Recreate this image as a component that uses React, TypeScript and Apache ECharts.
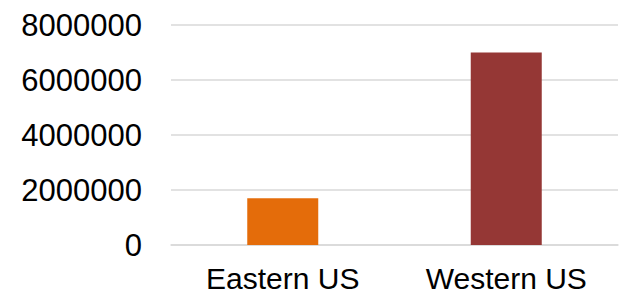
import React, { useEffect, useRef } from "react";
import * as echarts from "echarts";

const categories = ["Eastern US", "Western US"];
const values = [1700000, 7000000];
const barColors = ["#E46C0A", "#953735"];
const yTicks = { min: 0, max: 8000000, interval: 2000000 };

export default function App() {
  const ref = useRef<HTMLDivElement>(null);
  useEffect(() => {
    if (!ref.current) return;
    const chart = echarts.init(ref.current, undefined, { renderer: "svg" });
    chart.setOption({
      animation: false,
      backgroundColor: "#ffffff",
      grid: { left: 171, right: 24, top: 25, bottom: 50, containLabel: false },
      xAxis: {
        type: "category",
        data: categories,
        axisLine: { show: true, lineStyle: { color: "#d9d9d9", width: 1.5 } },
        axisTick: { show: false },
        axisLabel: {
          color: "#000000",
          fontFamily: "Liberation Sans, Arial, sans-serif",
          fontSize: 30,
          lineHeight: 30,
          margin: 18,
        },
      },
      yAxis: {
        type: "value",
        min: yTicks.min,
        max: yTicks.max,
        interval: yTicks.interval,
        axisLine: { show: false },
        axisTick: { show: false },
        splitLine: { lineStyle: { color: "#d9d9d9", width: 1.5 } },
        axisLabel: {
          color: "#000000",
          fontFamily: "Liberation Sans, Arial, sans-serif",
          fontSize: 31,
          margin: 29,
          formatter: (v: number) => String(v),
        },
      },
      series: [
        {
          type: "bar",
          barWidth: 71,
          data: values.map((v, i) => ({ value: v, itemStyle: { color: barColors[i] } })),
        },
      ],
    });
    return () => chart.dispose();
  }, []);
  return (
    <div
      ref={ref}
      style={{ position: "fixed", left: 0, top: 0, width: 642, height: 295 }}
    />
  );
}
